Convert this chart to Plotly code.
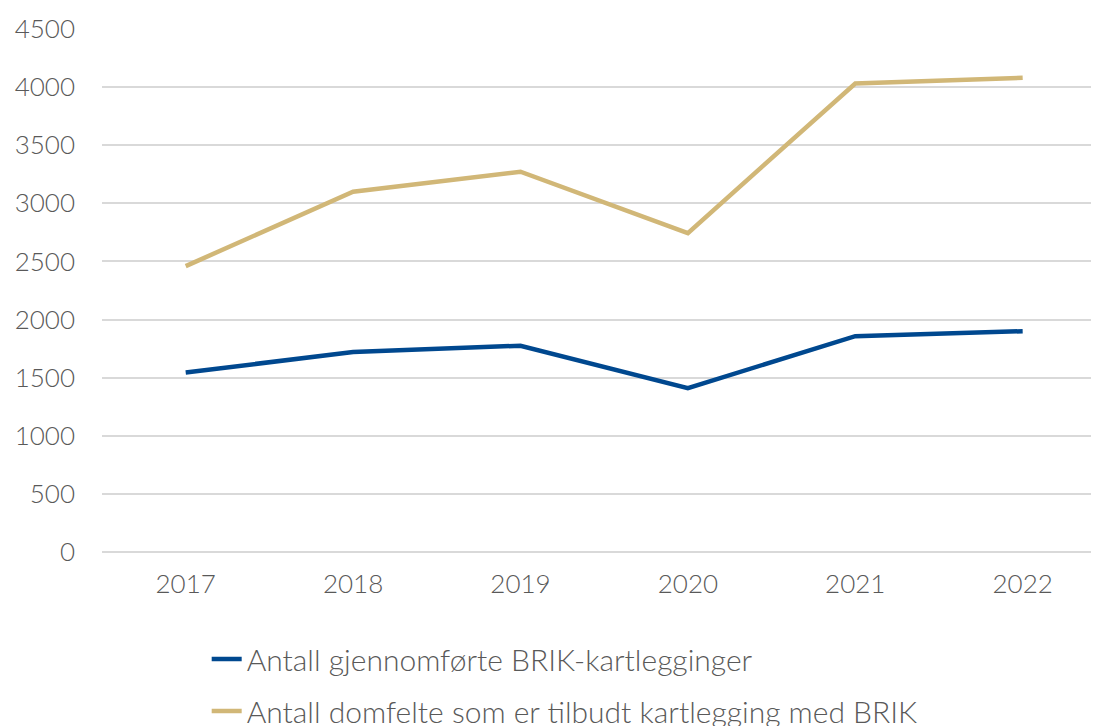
import plotly.graph_objects as go

# years on the x axis
years = ['2017', '2018', '2019', '2020', '2021', '2022']

# BRIK figures
gjennomforte = [1545, 1720, 1775, 1410, 1857, 1900]
tilbudt = [2460, 3100, 3272, 2744, 4031, 4080]

tick_vals = [0, 500, 1000, 1500, 2000, 2500, 3000, 3500, 4000, 4500]

blue = '#00488f'
gold = '#d1b777'
grey_text = '#595959'

fig = go.Figure()

fig.add_trace(go.Scatter(
    x=years, y=gjennomforte,
    mode='lines',
    name='Antall gjennomførte BRIK-kartlegginger',
    line=dict(color=blue, width=4.5),
    legendgroup='a',
))
fig.add_trace(go.Scatter(
    x=years, y=tilbudt,
    mode='lines',
    name='Antall domfelte som er tilbudt kartlegging med BRIK',
    line=dict(color=gold, width=4.5),
    legendgroup='b',
))

# the page body adds an 8px offset, so the figure is 8px smaller each way
fig.update_layout(
    width=1091, height=718,
    paper_bgcolor='white',
    plot_bgcolor='white',
    font=dict(family='Lato', size=26, color=grey_text, weight=300),
    margin=dict(l=94, r=0, t=21, b=174, autoexpand=False),
    showlegend=True,
    legend=dict(
        x=0.105, y=-0.155,
        xanchor='left', yanchor='top',
        orientation='v',
        tracegroupgap=10,
        font=dict(size=30, color=grey_text, weight=300),
        bgcolor='rgba(0,0,0,0)',
    ),
)

fig.update_xaxes(
    type='category',
    range=[-0.5, 5.456],
    showgrid=False,
    showline=False,
    ticks='',
    ticklabelstandoff=14,
    automargin=False,
)

fig.update_yaxes(
    range=[0, 4500],
    tickvals=tick_vals,
    showgrid=True,
    gridcolor='#d9d9d9',
    gridwidth=1.5,
    zeroline=True,
    zerolinecolor='#d9d9d9',
    zerolinewidth=1.5,
    showline=False,
    ticks='',
    ticklabelstandoff=26,
    automargin=False,
)

fig.write_html("out.html")
